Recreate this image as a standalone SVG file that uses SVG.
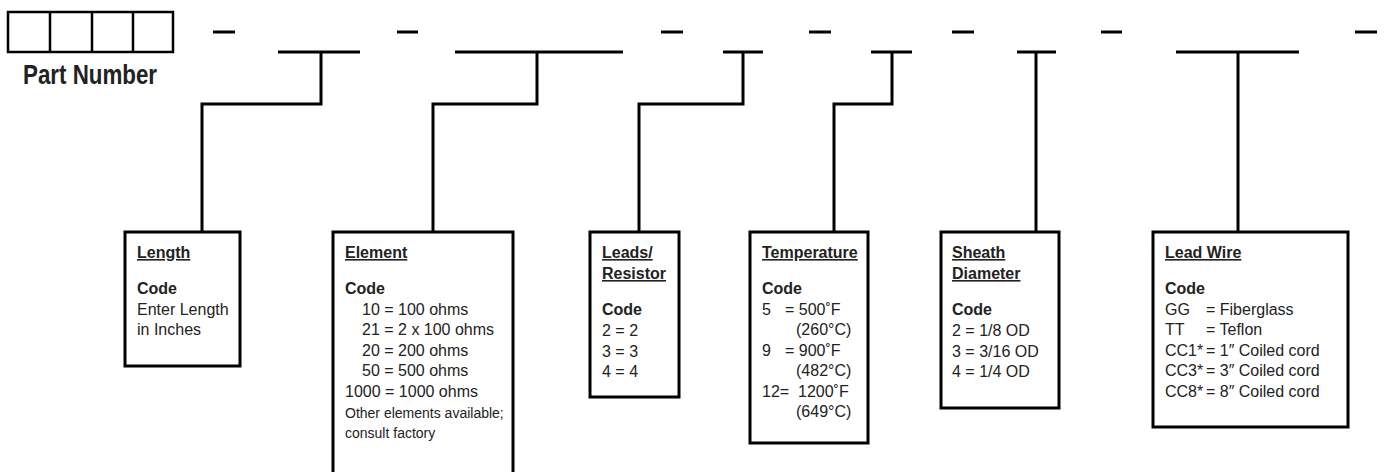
<svg xmlns="http://www.w3.org/2000/svg" width="1387" height="472" viewBox="0 0 1387 472">
<style>
.ln{stroke:#000;stroke-width:3;fill:none;stroke-linecap:butt}
.box{stroke:#000;stroke-width:3;fill:#fff}
.cell{stroke:#000;stroke-width:2.5;fill:#fff}
text{font-family:"Liberation Sans",Arial,sans-serif;font-size:16px;fill:#222}
.h{font-weight:bold;text-decoration:underline}
.b{font-weight:bold}
.s{font-size:14px}
.pn{font-size:28px;font-weight:bold}
</style>
<rect width="1387" height="472" fill="#fff"/>
<g id="part-number">
<rect class="cell" x="8" y="12" width="165" height="40"/>
<line class="ln" x1="50" y1="12" x2="50" y2="52" style="stroke-width:2.5"/>
<line class="ln" x1="92" y1="12" x2="92" y2="52" style="stroke-width:2.5"/>
<line class="ln" x1="133" y1="12" x2="133" y2="52" style="stroke-width:2.5"/>
<text class="pn" x="23" y="84" textLength="134" lengthAdjust="spacingAndGlyphs">Part Number</text>
</g>
<g id="separators">
<line class="ln" x1="213" y1="32" x2="235" y2="32"/>
<line class="ln" x1="397" y1="32" x2="418" y2="32"/>
<line class="ln" x1="661" y1="32" x2="683" y2="32"/>
<line class="ln" x1="809" y1="32" x2="831" y2="32"/>
<line class="ln" x1="952" y1="32" x2="974" y2="32"/>
<line class="ln" x1="1101" y1="32" x2="1122" y2="32"/>
<line class="ln" x1="1355" y1="32" x2="1377" y2="32"/>
</g>
<g id="connectors">
<line class="ln" x1="278" y1="52" x2="360" y2="52"/>
<polyline class="ln" points="321,52 321,104 202,104 202,232"/>
<line class="ln" x1="455" y1="52" x2="623" y2="52"/>
<polyline class="ln" points="537,52 537,104 433,104 433,232"/>
<line class="ln" x1="723" y1="52" x2="763" y2="52"/>
<polyline class="ln" points="743,52 743,104 639,104 639,232"/>
<line class="ln" x1="871" y1="52" x2="912" y2="52"/>
<polyline class="ln" points="892,52 892,104 834,104 834,232"/>
<line class="ln" x1="1017" y1="52" x2="1056" y2="52"/>
<line class="ln" x1="1036" y1="52" x2="1036" y2="232"/>
<line class="ln" x1="1176" y1="52" x2="1299" y2="52"/>
<line class="ln" x1="1238" y1="52" x2="1238" y2="232"/>
</g>
<g id="length">
<rect class="box" x="125" y="232" width="115" height="134"/>
<text class="h" x="137" y="258">Length</text>
<text class="b" x="137" y="294">Code</text>
<text x="137" y="315">Enter Length</text>
<text x="137" y="335">in Inches</text>
</g>
<g id="element">
<rect class="box" x="333" y="232" width="180" height="260"/>
<text class="h" x="345" y="258">Element</text>
<text class="b" x="345" y="294">Code</text>
<text x="362" y="315">10 = 100 ohms</text>
<text x="362" y="335">21 = 2 x 100 ohms</text>
<text x="362" y="356">20 = 200 ohms</text>
<text x="362" y="376">50 = 500 ohms</text>
<text x="345" y="397">1000  = 1000 ohms</text>
<text class="s" x="345" y="418">Other elements available;</text>
<text class="s" x="345" y="438">consult factory</text>
</g>
<g id="leads-resistor">
<rect class="box" x="590" y="232" width="89" height="165"/>
<text class="h" x="602" y="258">Leads/</text>
<text class="h" x="602" y="279">Resistor</text>
<text class="b" x="602" y="315">Code</text>
<text x="602" y="336">2 = 2</text>
<text x="602" y="357">3 = 3</text>
<text x="602" y="377">4 = 4</text>
</g>
<g id="temperature">
<rect class="box" x="750" y="232" width="118" height="211"/>
<text class="h" x="762" y="258">Temperature</text>
<text class="b" x="762" y="294">Code</text>
<text x="762" y="315">5</text><text x="785" y="315">= 500˚F</text>
<text x="796" y="335">(260°C)</text>
<text x="762" y="356">9</text><text x="785" y="356">= 900˚F</text>
<text x="796" y="376">(482°C)</text>
<text x="762" y="397">12=</text><text x="798" y="397">1200˚F</text>
<text x="796" y="417">(649°C)</text>
</g>
<g id="sheath-diameter">
<rect class="box" x="941" y="232" width="118" height="176"/>
<text class="h" x="952" y="258">Sheath</text>
<text class="h" x="952" y="279">Diameter</text>
<text class="b" x="952" y="315">Code</text>
<text x="952" y="336">2 = 1/8 OD</text>
<text x="952" y="357">3 = 3/16 OD</text>
<text x="952" y="377">4 = 1/4 OD</text>
</g>
<g id="lead-wire">
<rect class="box" x="1153" y="232" width="195" height="195"/>
<text class="h" x="1165" y="258">Lead Wire</text>
<text class="b" x="1165" y="294">Code</text>
<text x="1165" y="315">GG</text><text x="1206" y="315">= Fiberglass</text>
<text x="1165" y="335">TT</text><text x="1206" y="335">= Teflon</text>
<text x="1165" y="356">CC1*</text><text x="1206" y="356">= 1″ Coiled cord</text>
<text x="1165" y="376">CC3*</text><text x="1206" y="376">= 3″ Coiled cord</text>
<text x="1165" y="397">CC8*</text><text x="1206" y="397">= 8″ Coiled cord</text>
</g>
</svg>
